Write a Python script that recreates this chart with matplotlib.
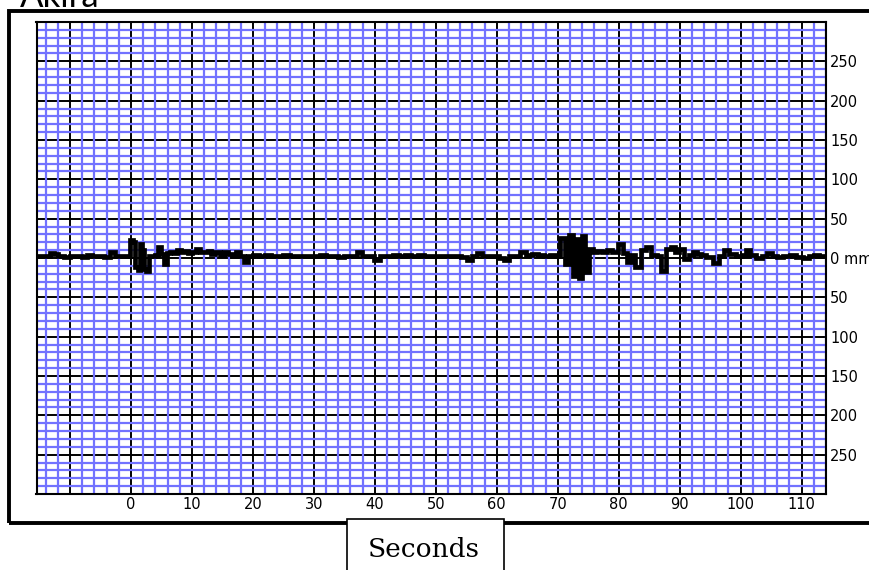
import numpy as np
import matplotlib
matplotlib.use('Agg')
import matplotlib.pyplot as plt
from matplotlib.patches import Rectangle

# ── Data ──────────────────────────────────────────────────────────────────────
time_s = [
    -15.5, -14.5, -13.5, -13.0, -12.3, -11.5, -10.5, -9.5, -8.5, -7.5, -6.8, -6.0,
    -5.0, -4.0, -3.0, -2.3, -1.5, -0.8, -0.3,
    0.1, 0.5, 0.9, 1.3, 1.7, 2.0, 2.3, 2.7, 3.1, 3.6, 4.2, 4.7, 5.1, 5.6, 6.1,
    6.7, 7.3, 7.9, 8.5, 9.1, 9.7, 10.3, 11.0, 11.6, 12.2, 12.9, 13.5, 14.2, 14.9,
    15.5, 16.2, 16.9, 17.5, 18.2, 18.9, 19.5, 20.5, 21.5, 22.5, 23.5, 24.5, 25.5,
    26.5, 27.5, 28.5, 29.5, 30.5, 31.5, 32.5, 33.5, 34.5, 35.5, 36.5, 37.5, 38.3,
    39.2, 40.5, 41.3, 42.3, 43.5, 44.5, 45.5, 46.5, 47.5, 48.5, 49.5, 50.5, 51.5,
    52.5, 53.5, 54.6, 55.6, 56.4, 57.2, 58.0, 59.0, 60.0, 60.7, 61.6, 62.5, 63.4,
    64.3, 65.2, 66.2, 67.2, 68.2, 69.2, 70.0,
    70.8, 71.5, 72.2, 72.8, 73.3, 73.7, 74.1, 74.7, 75.4, 76.0, 76.8, 77.6, 78.4,
    79.3, 80.4, 81.0, 81.6, 82.3, 83.2, 84.0, 84.8, 85.9, 86.6, 87.3, 88.1, 88.9,
    89.6, 90.3, 91.1, 91.8, 92.5, 93.2, 93.9, 94.8, 96.0, 96.8, 97.7, 98.6, 99.8,
    100.5, 101.2, 102.0, 103.1, 104.0, 104.8, 105.6, 106.4, 107.5, 108.6, 109.7,
    110.8, 111.6, 112.4, 113.3, 114.0,
]
trace_mm = [
    2, 2, 3, 6, 5, 2, 1, 2, 2, 1, 4, 2,
    2, 1, 7, 3, 2, 2, 3,
    23, 20, -12, -15, 18, 10, -14, -16, 2, 3, 4, 14, 5, -7, 6,
    8, 6, 10, 7, 9, 6, 8, 12, 8, 7, 9, 5, 7, 4,
    8, 5, 3, 8, 3, -5, 2, 4, 3, 4, 2, 3, 4,
    2, 3, 2, 3, 2, 4, 2, 3, 1, 3, 3, 7, 3,
    2, -3, 2, 3, 4, 3, 4, 3, 4, 2, 3, 2, 3,
    2, 3, 1, -3, 2, 6, 3, 2, 2, 0, -3, 3, 3,
    7, 4, 5, 4, 3, 4, 3,
    26, -8, 29, -23, 24, -25, 28, -18, 11, 7, 9, 8, 10,
    8, 18, 6, -5, 4, -12, 10, 14, 4, 3, -16, 12, 14,
    8, 12, -1, 4, 8, 5, 4, 1, -6, 2, 10, 5, 2,
    4, 10, 4, 0, 3, 6, 3, 1, 2, 4, 1,
    0, 2, 4, 2, 2,
]

x_major = [-10, 0, 10, 20, 30, 40, 50, 60, 70, 80, 90, 100, 110]
x_labels = ['', '0', '10', '20', '30', '40', '50', '60', '70', '80', '90', '100', '110']
y_major = [250, 200, 150, 100, 50, 0, -50, -100, -150, -200, -250]
y_labels = ['250', '200', '150', '100', '50', '0 mm', '50', '100', '150', '200', '250']

W, H = 869, 570
fig = plt.figure(figsize=(W / 100, H / 100), dpi=100)
fig.patch.set_facecolor('white')

# outer frame (runs off the right edge of the picture)
fig.add_artist(Rectangle((9 / W, 1 - 522.5 / H), 1.2, (522.5 - 11) / H,
                         transform=fig.transFigure, fill=False,
                         edgecolor='black', lw=2.8, clip_on=False, zorder=1))

ax = fig.add_axes([36.5 / W, 1 - 494 / H, (826 - 36.5) / W, (494 - 22) / H])
ax.set_xlim(-15.5, 114)
ax.set_ylim(-300, 300)

ax.set_xticks(x_major)
ax.set_xticklabels(x_labels)
ax.set_xticks(np.arange(-14, 115, 2), minor=True)
ax.set_yticks(y_major)
ax.set_yticklabels(y_labels)
ax.set_yticks(np.arange(-290, 300, 10), minor=True)
ax.yaxis.tick_right()

ax.grid(which='minor', color='#7272ff', lw=1.6)
ax.grid(which='major', visible=False)
for xv in x_major:
    ax.axvline(xv, color='black', lw=1.4, zorder=1.5)
for yv in y_major:
    ax.axhline(yv, color='black', lw=1.4, zorder=1.5)

ax.plot(time_s, trace_mm, color='black', lw=3.4, drawstyle='steps-mid',
        solid_joinstyle='miter', zorder=3)

ax.tick_params(which='both', length=0)
ax.tick_params(axis='x', labelsize=10.5, pad=2)
ax.tick_params(axis='y', labelsize=10.5, pad=3)
for lab in ax.get_yticklabels():
    lab.set_horizontalalignment('left')
for s in ax.spines.values():
    s.set_linewidth(1.5)
    s.set_color('black')

# "Seconds" tab below the frame
fig.add_artist(Rectangle((347 / W, -0.05), (504 - 347) / W, 0.05 + (1 - 519 / H),
                         transform=fig.transFigure, facecolor='white',
                         edgecolor='black', lw=1.2, clip_on=False, zorder=2))
fig.text(424 / W, 1 - 557 / H, 'Seconds', family='DejaVu Serif', fontsize=19,
         ha='center', va='baseline', zorder=3)

# name at the top, cut off by the picture edge
fig.text(20 / W, 1 - 7 / H, 'Akira', family='Lato', fontsize=25,
         ha='left', va='baseline')

fig.savefig('out.png', dpi=100)
